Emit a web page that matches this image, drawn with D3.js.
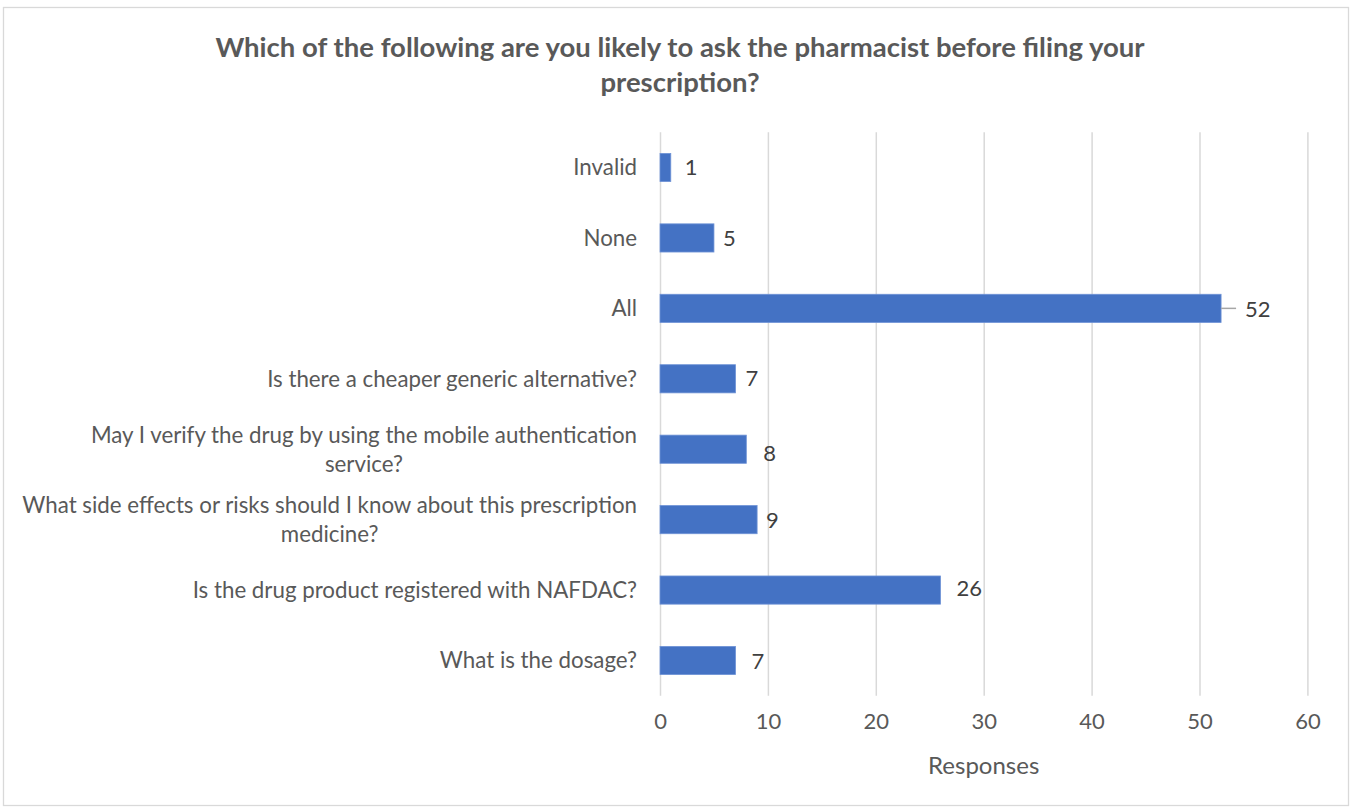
<!DOCTYPE html>
<html>
<head>
<meta charset="utf-8">
<script src="https://cdn.jsdelivr.net/npm/d3@7"></script>
<style>
  html, body { margin: 0; padding: 0; background: #fff; }
  svg { display: block; }
  text { font-family: Lato, "Open Sans", sans-serif; }
</style>
</head>
<body>
<svg id="chart" width="1352" height="809"></svg>
<script>
// Survey question answers, listed top to bottom
const categories = [
  "Invalid",
  "None",
  "All",
  "Is there a cheaper generic alternative?",
  "May I verify the drug by using the mobile authentication\nservice?",
  "What side effects or risks should I know about this prescription\nmedicine?",
  "Is the drug product registered with NAFDAC?",
  "What is the dosage?"
];
const responses = [1, 5, 52, 7, 8, 9, 26, 7];
const xTicks = [0, 10, 20, 30, 40, 50, 60];
const titleLines = [
  "Which of the following are you likely to ask the pharmacist before filing your",
  "prescription?"
];
const xAxisTitle = "Responses";

// Small per-label nudges for the value labels [dx, dy]
const labelNudge = [[14, 0], [9, 0], [24, 1], [10, 0], [17, 4], [9, 1], [16, -2], [16, 1]];

const svg = d3.select("#chart");
const W = 1352, H = 809;
const plot = { left: 660, right: 1307.4, top: 132.3, bottom: 695.7 };

// Outer chart border
svg.append("rect")
  .attr("x", 3.5).attr("y", 7.5)
  .attr("width", W - 7).attr("height", H - 11)
  .attr("fill", "#fff").attr("stroke", "#d9d9d9").attr("stroke-width", 1.3);

// Title
svg.append("g").selectAll("text").data(titleLines).join("text")
  .attr("x", 680).attr("y", (d, i) => 47 + i * 35)
  .attr("dy", "0.35em")
  .attr("text-anchor", "middle")
  .attr("font-weight", "bold")
  .attr("font-size", 27.5)
  .attr("fill", "#595959")
  .text(d => d);

const x = d3.scaleLinear().domain([0, 60]).range([plot.left, plot.right]);
const y = d3.scaleBand().domain(d3.range(categories.length))
  .range([plot.top, plot.bottom]).paddingInner(0.6).paddingOuter(0.3);

// Vertical gridlines and tick labels
const xAxis = d3.axisBottom(x).tickValues(xTicks).tickSize(-(plot.bottom - plot.top)).tickPadding(18);
const gx = svg.append("g").attr("transform", `translate(0,${plot.bottom})`).call(xAxis);
gx.select(".domain").remove();
gx.selectAll(".tick line").attr("stroke", "#d9d9d9").attr("stroke-width", 1.5);
gx.selectAll(".tick text")
  .attr("font-size", 22).attr("fill", "#595959")
  .attr("font-family", "Lato, sans-serif");

// Axis title
svg.append("text")
  .attr("x", (plot.left + plot.right) / 2).attr("y", 766)
  .attr("dy", "0.35em").attr("text-anchor", "middle")
  .attr("font-size", 24).attr("fill", "#595959")
  .text(xAxisTitle);

// Category labels, right-aligned block with centred wrapped lines
const catG = svg.append("g");
categories.forEach((c, i) => {
  const lines = c.split("\n");
  const cy = y(i) + y.bandwidth() / 2;
  const lh = 29;
  const g = catG.append("g");
  const texts = g.selectAll("text").data(lines).join("text")
    .attr("y", (d, j) => cy + (j - (lines.length - 1) / 2) * lh)
    .attr("dy", "0.35em")
    .attr("font-size", 22.3).attr("fill", "#595959")
    .text(d => d);
  const widths = texts.nodes().map(n => n.getComputedTextLength());
  const maxW = d3.max(widths);
  const right = 637;
  texts.attr("text-anchor", "middle").attr("x", right - maxW / 2);
});

// Bars
svg.append("g").selectAll("rect").data(responses).join("rect")
  .attr("x", x(0))
  .attr("y", (d, i) => y(i))
  .attr("width", d => x(d) - x(0))
  .attr("height", y.bandwidth())
  .attr("fill", "#4472c4")
  .attr("stroke", "#6f93d6").attr("stroke-width", 0.8);

// Leader line for the label pushed away from its bar
responses.forEach((d, i) => {
  if (labelNudge[i][0] > 20) {
    const cy = y(i) + y.bandwidth() / 2;
    svg.append("line")
      .attr("x1", x(d)).attr("x2", x(d) + 15)
      .attr("y1", cy).attr("y2", cy)
      .attr("stroke", "#a6a6a6").attr("stroke-width", 1.5);
  }
});

// Value labels
svg.append("g").selectAll("text").data(responses).join("text")
  .attr("x", (d, i) => x(d) + labelNudge[i][0])
  .attr("y", (d, i) => y(i) + y.bandwidth() / 2 + labelNudge[i][1])
  .attr("dy", "0.35em")
  .attr("font-size", 22).attr("fill", "#404040")
  .text(d => d);
</script>
</body>
</html>
